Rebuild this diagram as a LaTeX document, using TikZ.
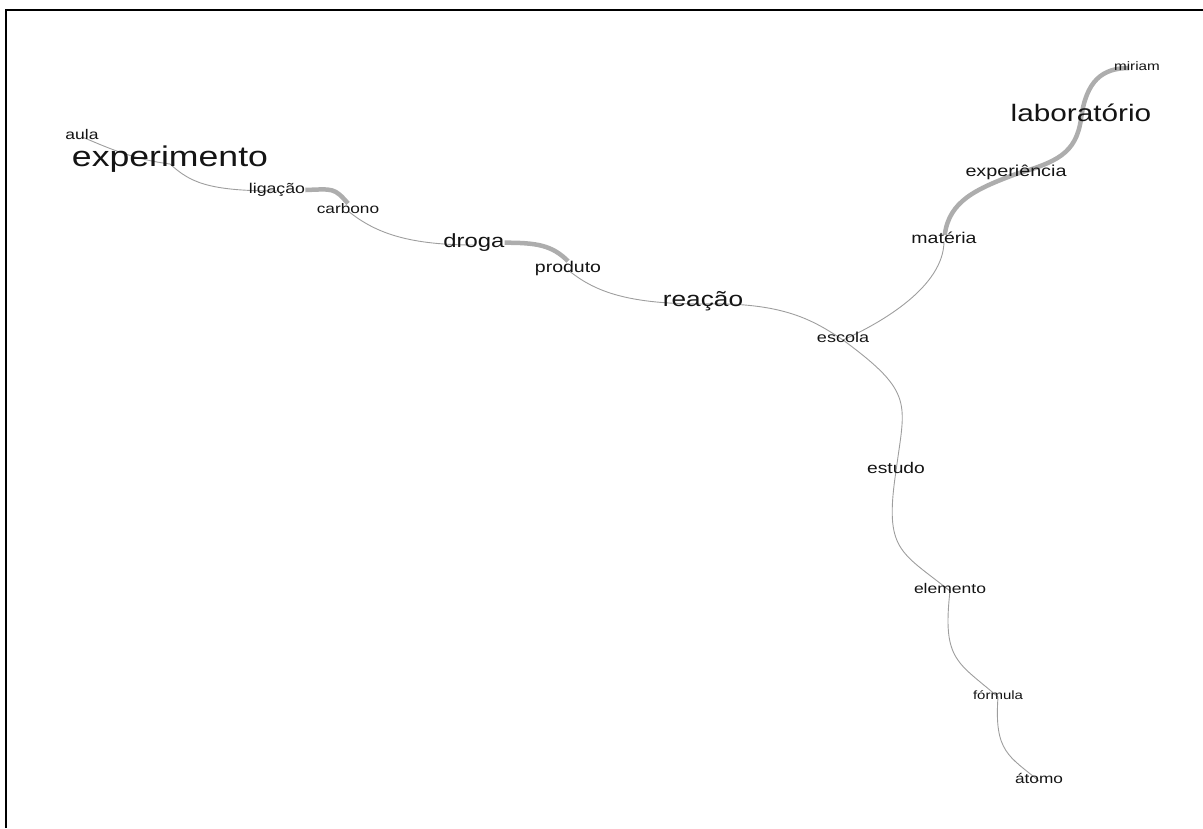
\documentclass[tikz,border=0pt]{standalone}
\usepackage{fontspec}
\setmainfont{Liberation Sans}
\usepackage{graphicx}
\usetikzlibrary{backgrounds}
\newcommand{\sx}[1]{\scalebox{1.25}[1]{#1}}
\begin{document}
\begin{tikzpicture}[x=1pt,y=-1pt,
  word/.style={inner sep=0pt, anchor=mid, text=black!92, font=\fontsize{#1}{#1}\selectfont},
  thinedge/.style={draw=black!38, line width=0.9pt},
  thickedge/.style={draw=black!32, line width=4.5pt},
  ]
\useasboundingbox (0,0) rectangle (1203,828);
\draw[line width=2pt] (6,828) -- (6,10) -- (1203,10);

\begin{scope}[yshift=-3pt]
\node[word=14] (aula) at (82,134) {\sx{aula}};
\node[word=28.5] (experimento) at (170,161) {\sx{experimento}};
\node[word=14.2] (ligacao) at (277,188) {\sx{ligação}};
\node[word=13.8] (carbono) at (348,208) {\sx{carbono}};
\node[word=19.1] (droga) at (474,242) {\sx{droga}};
\node[word=15.6] (produto) at (568,267) {\sx{produto}};
\node[word=21] (reacao) at (703,301) {\sx{reação}};
\node[word=14.4] (escola) at (843,337) {\sx{escola}};
\node[word=15.6] (materia) at (944,238) {\sx{matéria}};
\node[word=15.8] (experiencia) at (1016,171) {\sx{experiência}};
\node[word=23.8] (laboratorio) at (1081,116) {\sx{laboratório}};
\node[word=12.2] (miriam) at (1137,65) {\sx{miriam}};
\node[word=15.4] (estudo) at (896,468) {\sx{estudo}};
\node[word=14] (elemento) at (950,588) {\sx{elemento}};
\node[word=12] (formula) at (998,694) {\sx{fórmula}};
\node[word=13.8] (atomo) at (1039,778) {\sx{átomo}};

\begin{pgfonlayer}{background}
\draw[thinedge] (aula.mid) .. controls +(20,8) and +(-40,-5) .. (experimento.mid);
\draw[thinedge] (experimento.mid) .. controls +(20,18) and +(-70,0) .. (ligacao.mid);
\draw[thickedge] (ligacao.east) .. controls +(28,-1) and +(-14,-16) .. (carbono.north);
\draw[thinedge] (carbono.mid) .. controls +(25,20) and +(-70,0) .. (droga.mid);
\draw[thickedge] (droga.east) .. controls +(32,0) and +(-16,-16) .. (produto.north);
\draw[thinedge] (produto.mid) .. controls +(25,20) and +(-80,0) .. (reacao.mid);
\draw[thinedge] (reacao.mid) .. controls +(80,-2) and +(-30,-20) .. (escola.mid);
\draw[thinedge] (escola.mid) .. controls +(40,-18) and +(0,45) .. (materia.mid);
\draw[thickedge, shorten <=6pt] (materia.mid) .. controls +(5,-40) and +(-40,15) .. (experiencia.mid);
\draw[thickedge] (experiencia.mid) .. controls +(40,-12) and +(-5,35) .. (laboratorio.mid);
\draw[thickedge, shorten >=8pt] (laboratorio.mid) .. controls +(5,-38) and +(-35,0) .. (miriam.mid);
\draw[thinedge] (escola.mid) .. controls +(72,53) and +(9,-68) .. (estudo.mid);
\draw[thinedge] (estudo.mid) .. controls +(-12,80) and +(-50,-40) .. (elemento.mid);
\draw[thinedge] (elemento.mid) .. controls +(-8,70) and +(-40,-35) .. (formula.mid);
\draw[thinedge] (formula.mid) .. controls +(-4,55) and +(-30,-25) .. (atomo.mid);
\end{pgfonlayer}
\end{scope}
\end{tikzpicture}
\end{document}
